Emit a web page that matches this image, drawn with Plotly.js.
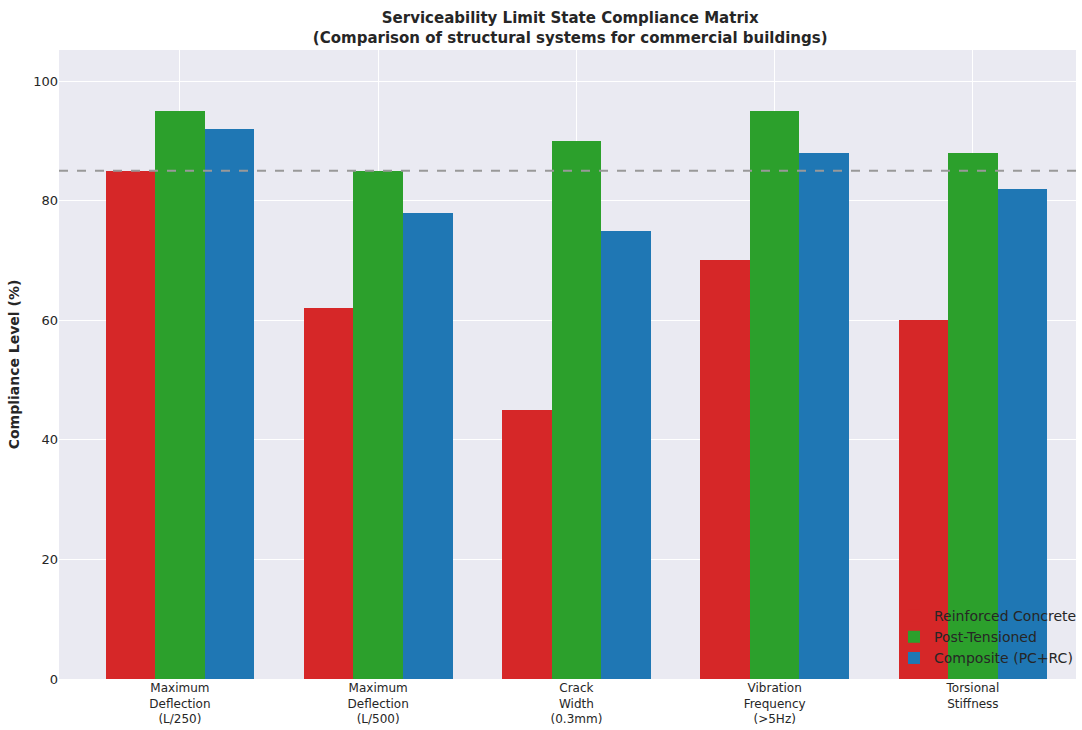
<!DOCTYPE html>
<html>
<head>
<meta charset="utf-8">
<script src="https://cdn.plot.ly/plotly-3.0.1.min.js"></script>
<style>html,body{margin:0;padding:0;background:#fff;}#chart{width:1082px;height:730px;}</style>
</head>
<body>
<div id="chart"></div>
<script>
const categories = ["Maximum<br>Deflection<br>(L/250)", "Maximum<br>Deflection<br>(L/500)", "Crack<br>Width<br>(0.3mm)", "Vibration<br>Frequency<br>(>5Hz)", "Torsional<br>Stiffness"];
const seriesNames = ["Reinforced Concrete", "Post-Tensioned", "Composite (PC+RC)"];
const reinforced = [85, 62, 45, 70, 60];
const postTensioned = [95, 85, 90, 95, 88];
const composite = [92, 78, 75, 88, 82];
const threshold = 85;
const colors = ["#d62728", "#2ca02c", "#1f77b4"];

const xs = categories.map((c, i) => i);
const allSeries = [reinforced, postTensioned, composite];
const traces = allSeries.map((vals, k) => ({
  type: "bar",
  name: seriesNames[k],
  x: xs.map(i => i + (k - 1) * 0.25),
  y: vals,
  width: 0.25,
  marker: {color: colors[k], line: {width: 0}},
  hoverinfo: "y"
}));

const layout = {
  width: 1082, height: 730,
  margin: {l: 59, r: 0, t: 50, b: 51},
  paper_bgcolor: "#ffffff",
  plot_bgcolor: "#EAEAF2",
  font: {family: "DejaVu Sans, sans-serif", color: "#262626"},
  title: {
    text: "<b>Serviceability Limit State Compliance Matrix<br>(Comparison of structural systems for commercial buildings)</b>",
    font: {size: 15, color: "#262626"},
    x: 0.527, xanchor: "center", yref: "container", y: 0.968, yanchor: "middle"
  },
  barmode: "overlay",
  bargap: 0,
  xaxis: {
    range: [-0.61, 4.52],
    tickmode: "array",
    tickvals: xs,
    ticktext: categories,
    tickfont: {size: 12, color: "#262626"},
    showgrid: true, gridcolor: "#ffffff", gridwidth: 1,
    zeroline: false, showline: false, ticks: ""
  },
  yaxis: {
    range: [0, 105.2],
    tickvals: [0, 20, 40, 60, 80, 100],
    tickfont: {size: 13, color: "#262626"},
    showgrid: true, gridcolor: "#ffffff", gridwidth: 1,
    zeroline: false, showline: false, ticks: "",
    title: {text: "<b>Compliance Level (%)</b>", font: {size: 14, color: "#262626"}, standoff: 10}
  },
  shapes: [{
    type: "line", xref: "paper", x0: 0, x1: 1, yref: "y", y0: threshold, y1: threshold,
    line: {color: "#999999", width: 2, dash: "dash"}
  }],
  legend: {
    x: 1.006, xanchor: "right", y: 0.008, yanchor: "bottom",
    bgcolor: "rgba(0,0,0,0)",
    font: {size: 14, color: "#262626"},
    itemwidth: 30,
    tracegroupgap: 0
  },
  showlegend: true
};

Plotly.newPlot("chart", traces, layout, {displayModeBar: false});
</script>
</body>
</html>
